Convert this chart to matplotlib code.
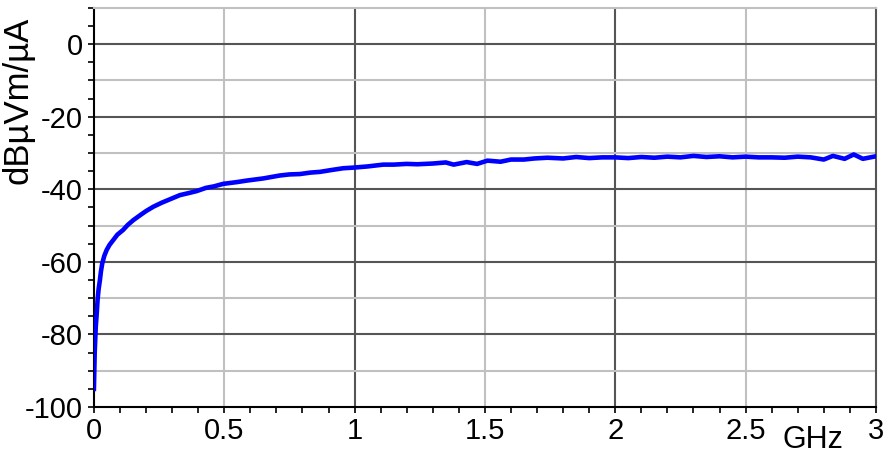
import matplotlib.pyplot as plt
from matplotlib.ticker import MultipleLocator

# frequency (GHz) and level (dBuVm/uA)
freq = [0, 0.003, 0.007, 0.011, 0.014, 0.018, 0.023, 0.027, 0.032, 0.04,
        0.049, 0.06, 0.074, 0.09, 0.112, 0.13, 0.151, 0.18, 0.2, 0.228,
        0.26, 0.3, 0.33, 0.36, 0.394, 0.43, 0.46, 0.496, 0.55, 0.586,
        0.65, 0.713, 0.75, 0.79, 0.83, 0.867, 0.91, 0.956, 1.0, 1.05,
        1.11, 1.15, 1.2, 1.24, 1.3, 1.35, 1.38, 1.43, 1.47, 1.51,
        1.56, 1.6, 1.65, 1.69, 1.74, 1.8, 1.85, 1.9, 1.95, 2.0,
        2.05, 2.1, 2.15, 2.2, 2.25, 2.3, 2.35, 2.4, 2.45, 2.5,
        2.55, 2.6, 2.65, 2.7, 2.75, 2.8, 2.835, 2.88, 2.915, 2.95, 3.0]
level = [-95, -85, -78, -74, -70.5, -67.5, -65, -62.6, -60.4, -58.3,
         -56.7, -55.3, -54, -52.5, -51.2, -49.8, -48.5, -47, -46, -44.8,
         -43.7, -42.5, -41.6, -41.1, -40.5, -39.6, -39.2, -38.5, -38.0, -37.6,
         -37.0, -36.2, -35.9, -35.8, -35.4, -35.2, -34.7, -34.2, -34.0, -33.7,
         -33.2, -33.2, -33.0, -33.1, -32.9, -32.6, -33.2, -32.5, -33.0, -32.1,
         -32.4, -31.8, -31.8, -31.5, -31.3, -31.5, -31.1, -31.4, -31.2, -31.2,
         -31.4, -31.1, -31.3, -31.0, -31.2, -30.8, -31.1, -30.9, -31.2, -31.0,
         -31.2, -31.2, -31.3, -31.0, -31.2, -31.8, -30.8, -31.6, -30.4, -31.6, -30.9]

xticks = [0, 0.5, 1, 1.5, 2, 2.5, 3]
xticklabels = ['0', '0.5', '1', '1.5', '2', '2.5', '3']
yticks = [0, -20, -40, -60, -80, -100]

plt.rcParams['font.family'] = ['Liberation Sans', 'DejaVu Sans']
plt.rcParams['axes.unicode_minus'] = False

fig = plt.figure(figsize=(8.86, 4.61), dpi=100)
ax = fig.add_axes([0.106, 0.117, 0.8826, 0.866])

dark = '#555555'
light = '#c0c0c0'
for v in [0.5, 1.5, 2.5]:
    ax.axvline(v, color=light, lw=1.5, zorder=1)
for v in [1, 2]:
    ax.axvline(v, color=dark, lw=1.5, zorder=1)
for v in [-90, -70, -50, -30, -10]:
    ax.axhline(v, color=light, lw=1.5, zorder=1)
for v in [-80, -60, -40, -20, 0]:
    ax.axhline(v, color=dark, lw=1.5, zorder=1)

ax.plot(freq, level, color='#0000ff', lw=3.3, zorder=3, solid_joinstyle='round')

ax.set_xlim(0, 3)
ax.set_ylim(-100, 10)
ax.set_xticks(xticks)
ax.set_xticklabels(xticklabels)
ax.set_yticks(yticks)
ax.xaxis.set_minor_locator(MultipleLocator(0.1))
ax.yaxis.set_minor_locator(MultipleLocator(5))
ax.tick_params(axis='both', which='major', labelsize=21, length=4, width=1.2, direction='out')
ax.tick_params(axis='both', which='minor', length=4, width=1.2, direction='out')
ax.tick_params(axis='x', which='major', pad=3)
ax.tick_params(axis='y', which='major', pad=4)

ax.spines['left'].set_linewidth(1.5)
ax.spines['bottom'].set_linewidth(1.5)
ax.spines['top'].set_color(light)
ax.spines['top'].set_linewidth(1.5)
ax.spines['right'].set_color(dark)
ax.spines['right'].set_linewidth(1.5)

fig.text(18 / 886, 1 - 100 / 461, 'dBµVm/µA', rotation=90, fontsize=25,
         ha='center', va='center')
fig.text(813 / 886, 1 - 440 / 461, 'GHz', fontsize=22, ha='center', va='center')

fig.savefig('out.png', dpi=100)
